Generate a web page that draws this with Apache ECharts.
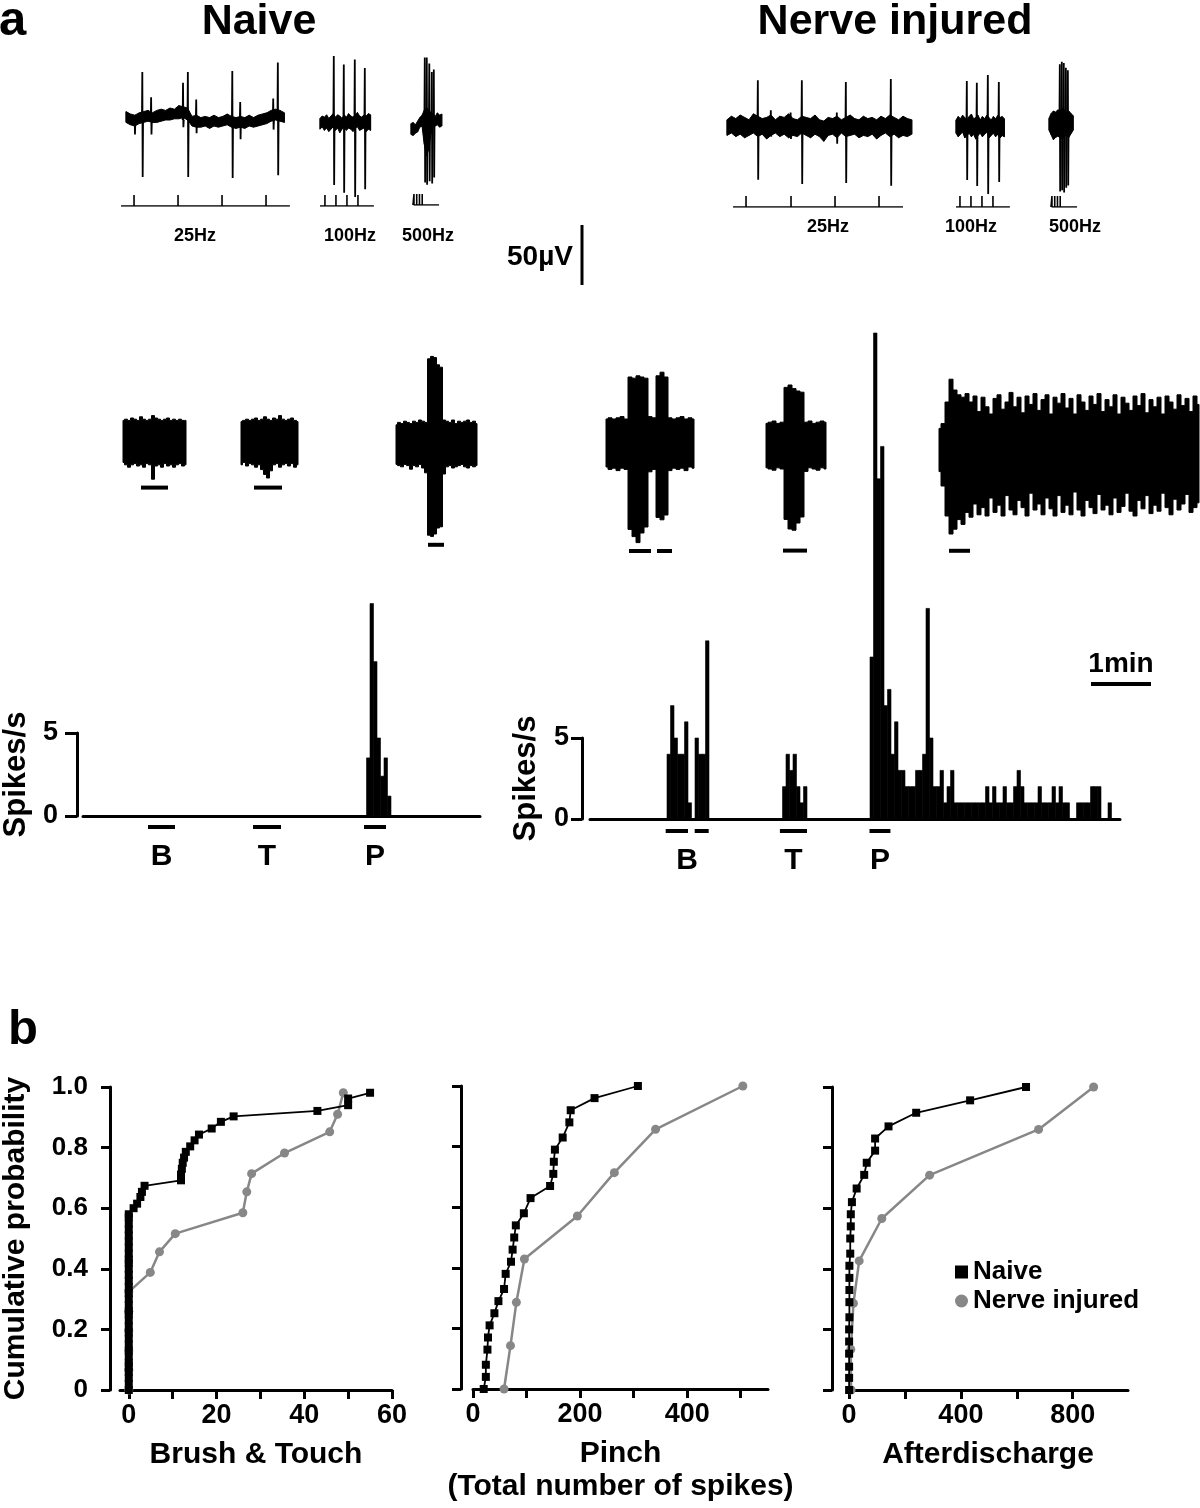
<!DOCTYPE html>
<html><head><meta charset="utf-8">
<script src="https://cdn.jsdelivr.net/npm/echarts@6/dist/echarts.min.js"></script>
<style>html,body{margin:0;padding:0;background:#fff}#c{width:1200px;height:1508px}</style>
</head><body><div id="c"></div>
<script>
// ================= DATA =================
// --- top row: single-unit responses to 25/100/500 Hz stimulation (ms, µV) ---
const nTop25 = [7,5,4,6,7,8,6,8,9,8,10,9,12,11,10,3,4,2,3,2,4,2,3,5,3,2,3,2,4,2,4,5,6,8,9,8,6];
const nBot25 = [-2,-4,-5,-3,-2,-1,-2,-2,-1,0,0,1,1,2,0,-5,-6,-6,-5,-7,-5,-6,-5,-4,-6,-7,-6,-7,-5,-6,-5,-4,-3,-1,0,-1,-2];
const nSp25 = [[8,3,-12],[15,40,-47.5],[23,19,-12],[52,31,-6],[56.4,40,-47.5],[64,17,-11],[96.8,40.8,-48.3],[104,15,-16],[134,18,-8],[138.2,48,-46]];
const nStim25 = [7.3,47.3,87.3,127.3];
const n100Top = [3,5,4,6,3,5,7,4,6,5,3,6,4,7,5,4,6,8,5,4,6,5,7,6];
const n100Bot = [-6,-4,-7,-5,-8,-6,-4,-7,-5,-9,-6,-4,-7,-5,-6,-8,-5,-4,-7,-6,-5,-8,-6,-7];
const nSp100 = [[12.7,55,-52.5],[21.8,48,-59],[31.8,52,-62.5],[40.9,45,-56]];
const nStim100 = [4.5,14.5,24.5,34.5];
const n500Top = [-3,-2,-4,-1,2,4,8,10,9,6,5,3,6,4,5];
const n500Bot = [-12,-13,-11,-10,-6,-5,-20,-30,-25,-12,-6,-5,-4,-6,-5];
const nSp500 = [[12.7,52,-52],[14.5,52,-54],[16.8,47,-51],[19.1,40,-53],[20.9,42,-48]];
const nStim500 = [2.7,5.2,7.7,10.2];

const neTop25 = [6,9,7,10,8,6,11,9,7,8,10,6,9,8,11,7,6,9,8,7,10,6,5,8,7,9,6,8,10,7,6,9,7,8,6,9,7,10,8,6,9,7,6];
const neBot25 = [-7,-5,-8,-6,-9,-7,-5,-8,-6,-10,-7,-5,-8,-6,-9,-7,-8,-5,-7,-9,-6,-8,-12,-7,-6,-9,-5,-8,-7,-6,-9,-7,-8,-6,-10,-7,-5,-8,-6,-9,-7,-8,-6];
const neSp25 = [[28.2,39,-44],[40,14,-8],[58,12,-10],[68.2,39,-47.5],[100,12,-14],[108.2,37.5,-46.7],[149.1,40,-49]];
const neStim25 = [17.3,58.2,98.2,138.2];
const ne100Top = [5,8,6,9,7,5,8,10,6,7,9,5,8,6,9,7,5,8,6,9,7,8,6];
const ne100Bot = [-6,-9,-7,-5,-10,-8,-6,-9,-7,-11,-8,-6,-9,-7,-5,-10,-8,-6,-9,-7,-10,-8,-9];
const neSp100 = [[10,37.5,-45],[19.1,36,-50],[29.1,42.5,-56.7],[39.1,36.7,-46.7]];
const neStim100 = [3.6,13.6,23.6,33.6];
const ne500Top = [4,8,10,9,11,10,12,11,9,10,8,6];
const ne500Bot = [-6,-10,-14,-12,-11,-12,-13,-11,-10,-12,-9,-6];
const neSp500 = [[10,49,-57],[11.8,51,-56],[13.6,50,-58],[15.5,46,-54],[17.3,44,-52]];
const neStim500 = [2.7,5.2,7.7,10.2];

// --- middle row: raw recordings during brush / touch / pinch (s, µV envelopes) ---
const nB_top = [18,19,18,20,19,18,21,19,18,19,22,20,19,18,19,20,18,19,18,19,18,18];
const nB_bot = [-17,-19,-21,-19,-18,-20,-19,-21,-18,-19,-31,-20,-19,-21,-18,-20,-19,-21,-19,-18,-20,-19];
const nT_top = [17,18,19,18,19,20,18,19,21,19,18,20,19,22,19,18,19,20,18,17];
const nT_bot = [-19,-17,-20,-18,-19,-21,-19,-23,-27,-30,-24,-19,-18,-21,-19,-18,-20,-18,-21,-19];
const nP_top = [16,18,17,19,18,17,19,18,20,19,18,71,73,72,66,64,20,19,18,20,17,19,18,19,20,18,19,17];
const nP_bot = [-17,-18,-19,-17,-18,-21,-18,-19,-17,-20,-24,-76,-77,-75,-70,-69,-25,-19,-18,-20,-19,-18,-17,-19,-20,-18,-19,-18];
const neB_top = [20,21,20,21,22,20,55,54,56,55,54,22,21,56,59,55,21,20,21,22,20,21,20];
const neB_bot = [-20,-22,-21,-23,-21,-22,-72,-78,-83,-75,-70,-24,-22,-62,-64,-60,-23,-21,-22,-21,-23,-20,-21];
const neT_top = [18,19,20,18,19,48,50,47,45,44,19,20,18,19,20,19];
const neT_bot = [-19,-20,-21,-19,-20,-62,-70,-71,-65,-60,-22,-19,-20,-21,-19,-20];
const ad_top = [18,22,40,59,50,46,44,47,40,45,32,44,36,30,43,46,34,40,48,36,44,31,45,38,47,33,42,46,30,44,
  39,47,35,43,30,46,40,33,45,38,47,32,42,36,46,30,44,39,33,45,37,47,31,42,36,44,30,45,40,34,46,37,43,32,45,38];
const ad_bot = [-18,-30,-55,-70,-66,-58,-62,-52,-56,-45,-54,-48,-55,-40,-52,-46,-55,-38,-50,-54,-42,-48,-55,-36,-50,-45,-54,-40,-49,-55,
  -38,-52,-46,-54,-35,-50,-55,-42,-48,-53,-37,-50,-46,-54,-40,-52,-47,-36,-51,-55,-42,-49,-38,-53,-46,-51,-36,-48,-54,-41,-50,-45,-37,-52,-48,-44];

// --- histograms (bin index, spikes/s) ---
const BIN_S = 3.5;
const naiveBins = [81,82,83,84,85,86,87];
const naiveRates = [3.5,12.8,9.3,4.7,2.4,3.5,1.2];
const nerveBins = [22,23,24,25,26,27,28,30,31,32,33,55,56,57,58,59,60,61,
  80,81,82,83,84,85,86,87,88,89,90,91,92,93,94,95,96,97,98,99,
  100,101,102,103,104,105,106,107,108,109,110,111,112,113,114,115,116,117,118,119,
  120,121,122,123,124,125,126,127,128,129,130,131,132,133,134,135,136,
  139,140,141,142,143,144,145,148];
const nerveRates = [4,7,5,4,4,6,1,5,4,4,11,2,4,3,4,2,1,2,
  10,30,21,23,7,8,4,6,3,3,2,2,2,3,3,4,13,5,2,2,
  3,1,2,3,1,1,1,1,1,1,1,1,1,2,1,2,1,1,2,1,
  1,2,3,2,1,1,1,1,2,1,1,1,2,1,2,1,1,
  1,1,1,1,2,2,2,1];
const stimLabels = ['B','T','P'];
const naiveStimSpans = [[[65,92]],[[170,198]],[[281,303]]];
const nerveStimSpans = [[[75.7,98],[104.7,118.7]],[[189.9,217]],[[279.5,300.4]]];

// --- panel b: cumulative probability ---
const btNaiveX = [0,0,0,0,0,0,0,0,0,0,0,0,0,0,0,0,0,0,0,0,0,0,0,0,0,0,0,0,0,0,0,0,
  1.1,1.9,2.65,3.0,3.6,11.9,11.9,12.1,12.3,12.6,13,14,15,16,18.9,21,23.9,43,50,50,55];
const btNaiveY = [0,0.02,0.04,0.06,0.08,0.09,0.11,0.13,0.15,0.17,0.19,0.21,0.23,0.25,0.26,0.28,0.30,0.32,0.34,0.36,0.38,0.40,0.42,0.43,0.45,0.47,0.49,0.51,0.53,0.55,0.57,0.58,
  0.60,0.615,0.637,0.654,0.674,0.692,0.711,0.73,0.75,0.767,0.786,0.804,0.824,0.843,0.863,0.885,0.903,0.921,0.94,0.962,0.981];
const btInjX = [0,0,0,0,0,0,4.9,7.0,10.6,26,26.9,28,35.5,45.8,47.6,48.9];
const btInjY = [0,0.065,0.13,0.195,0.26,0.324,0.388,0.456,0.516,0.585,0.654,0.714,0.782,0.852,0.91,0.981];
const piNaiveX = [20,24,24,27,28,31,40,47.5,58,61,71,74,77,80,95,107.5,144,150,151,153,167.5,180,182.5,227,308];
const piNaiveY = [0,0.04,0.08,0.13,0.17,0.21,0.25,0.29,0.33,0.38,0.42,0.46,0.50,0.54,0.58,0.63,0.67,0.71,0.75,0.79,0.83,0.88,0.92,0.96,1.0];
const piInjX = [58,70,81,96,195,264,341,504];
const piInjY = [0,0.143,0.286,0.429,0.571,0.714,0.857,1.0];
const adNaiveX = [0,0,0,0,0,0,1,1,1,1,1,4,4,6,6,10,27,54,63,93,93,141,240,433,633];
const adNaiveY = [0,0.04,0.077,0.12,0.16,0.2,0.24,0.29,0.33,0.37,0.41,0.45,0.5,0.54,0.58,0.62,0.665,0.71,0.75,0.79,0.83,0.87,0.915,0.956,1.0];
const adInjX = [7,6,15.5,36,117,288,678,875];
const adInjY = [0,0.134,0.286,0.426,0.566,0.709,0.86,1.0];
const btTicks = [0,10,20,30,40,50,60], btLabels = [0,20,40,60];
const piTicks = [0,100,200,300,400,500], piLabels = [0,200,400];
const adTicks = [0,200,400,600,800], adLabels = [0,400,800];
const probTicks = 0.2;

// ================= BUILD =================
const FONT = '"Liberation Sans", Arial, Helvetica, sans-serif';
const PX_PER_UV = 1.2, PX_PER_MS = 1.1, PX_PER_S = 1.0, TICK_H = 11;
const NAIVE_PX_PER_RATE = 16.6, NERVE_PX_PER_RATE = 16.2;
const GRAY = '#878787';
const grids = [], xAxes = [], yAxes = [], series = [];

function addGrid(box, xa, ya) {
  const i = grids.length;
  grids.push(Object.assign({containLabel: false}, box));
  xAxes.push(Object.assign({gridIndex: i, type: 'value', show: false, splitLine: {show: false}}, xa));
  yAxes.push(Object.assign({gridIndex: i, type: 'value', show: false, splitLine: {show: false}}, ya));
  return i;
}
// jagged (top traces) or stepped (long recordings) envelope of a noisy trace
function envelope(gi, dt, top, bot, hair, step) {
  series.push({type: 'custom', xAxisIndex: gi, yAxisIndex: gi, silent: true, data: [[0, 0]],
    renderItem(p, api) {
      const last = (top.length - 1) * dt;
      const clampT = t => Math.max(0, Math.min(last, t));
      const pts = [];
      top.forEach((v, i) => {
        if (step) { pts.push(api.coord([clampT(i * dt - dt / 2), v]), api.coord([clampT(i * dt + dt / 2), v])); }
        else pts.push(api.coord([i * dt, v]));
      });
      for (let i = bot.length - 1; i >= 0; i--) {
        if (step) { pts.push(api.coord([clampT(i * dt + dt / 2), bot[i]]), api.coord([clampT(i * dt - dt / 2), bot[i]])); }
        else pts.push(api.coord([i * dt, bot[i]]));
      }
      const ch = [{type: 'polygon', shape: {points: pts}, style: {fill: '#000', stroke: '#000', lineWidth: 1}}];
      if (hair > 0) top.forEach((v, i) => {
        const a = api.coord([i * dt, v]), b = api.coord([i * dt, bot[i]]);
        ch.push({type: 'line', shape: {x1: a[0], y1: a[1], x2: b[0], y2: b[1]}, style: {stroke: '#000', lineWidth: hair}});
      });
      return {type: 'group', children: ch};
    }});
}
function spikes(gi, list, w, lw) {
  series.push({type: 'custom', xAxisIndex: gi, yAxisIndex: gi, silent: true, data: list, encode: {x: 0, y: [1, 2]},
    renderItem(p, api) {
      const t = api.value(0), up = api.value(1), dn = api.value(2);
      const pts = [api.coord([t - w, 0]), api.coord([t - w / 3, up]), api.coord([t + w / 3, dn]), api.coord([t + w, 0])];
      return {type: 'polyline', shape: {points: pts}, style: {stroke: '#000', lineWidth: lw, fill: null}};
    }});
}
function topTrace(left, baseY, dur, dt, top, bot, sp) {
  const gi = addGrid({left: left, top: baseY - 70 * PX_PER_UV, width: dur * PX_PER_MS, height: 140 * PX_PER_UV},
    {min: 0, max: dur}, {min: -70, max: 70});
  envelope(gi, dt, top, bot, 0.8, false);
  spikes(gi, sp, 0.5, 1.8);
}
function stimRow(traceLeft, lineY, start, end, ticks) {
  const gi = addGrid({left: traceLeft + start * PX_PER_MS, top: lineY - TICK_H, width: (end - start) * PX_PER_MS, height: TICK_H},
    {min: start, max: end}, {min: 0, max: 1});
  const d = [[start, 0]];
  ticks.forEach(t => { d.push([t, 0], [t, 1], [t, 0]); });
  d.push([end, 0]);
  series.push({type: 'line', xAxisIndex: gi, yAxisIndex: gi, data: d, symbol: 'none', silent: true,
    lineStyle: {color: '#000', width: 1.6}});
}
function midTrace(left, cY, dur, dt, top, bot, stims, level) {
  const gi = addGrid({left: left, top: cY - 100 * PX_PER_UV, width: dur * PX_PER_S, height: 200 * PX_PER_UV},
    {min: 0, max: dur}, {min: -100, max: 100});
  envelope(gi, dt, top, bot, 0, true);
  series.push({type: 'custom', xAxisIndex: gi, yAxisIndex: gi, silent: true,
    data: stims.map(s => [s[0], s[1], level]), encode: {x: [0, 1], y: 2},
    renderItem(p, api) {
      const a = api.coord([api.value(0), api.value(2)]), b = api.coord([api.value(1), api.value(2)]);
      return {type: 'line', shape: {x1: a[0], y1: a[1], x2: b[0], y2: b[1]}, style: {stroke: '#000', lineWidth: 4}};
    }});
}
function histogram(cfg) {
  const hMax = cfg.yMax * cfg.pxPerRate;
  const gi = addGrid({left: cfg.left, top: cfg.baseY - hMax, width: cfg.dur * PX_PER_S, height: hMax},
    {show: true, min: 0, max: cfg.dur, axisLine: {show: true, onZero: false, lineStyle: {color: '#000', width: 3}},
     axisTick: {show: false}, axisLabel: {show: false}},
    {min: 0, max: cfg.yMax});
  series.push({type: 'custom', xAxisIndex: gi, yAxisIndex: gi, silent: true,
    data: cfg.bins.map((b, i) => [b * BIN_S, cfg.rates[i]]),
    renderItem(p, api) {
      const x = api.value(0), v = api.value(1);
      const a = api.coord([x, 0]), b = api.coord([x + BIN_S, v]);
      return {type: 'rect', shape: {x: a[0], y: b[1], width: b[0] - a[0], height: a[1] - b[1]},
        style: {fill: '#000', stroke: '#000', lineWidth: 0.6}};
    }});
  const spans = [], mids = [];
  cfg.spans.forEach((g, k) => {
    g.forEach(s => spans.push([s[0], s[1], 0]));
    mids.push([(g[0][0] + g[g.length - 1][1]) / 2, 0, k]);
  });
  series.push({type: 'custom', xAxisIndex: gi, yAxisIndex: gi, silent: true, data: spans, encode: {x: [0, 1], y: 2},
    renderItem(p, api) {
      const a = api.coord([api.value(0), 0]), b = api.coord([api.value(1), 0]);
      return {type: 'line', shape: {x1: a[0], y1: a[1] + cfg.markOff, x2: b[0], y2: b[1] + cfg.markOff},
        style: {stroke: '#000', lineWidth: 4}};
    }});
  series.push({type: 'custom', xAxisIndex: gi, yAxisIndex: gi, silent: true, data: mids, encode: {x: 0, y: 1},
    renderItem(p, api) {
      const a = api.coord([api.value(0), 0]);
      return {type: 'text', x: a[0], y: a[1] + cfg.labelOff,
        style: {text: stimLabels[api.value(2)], fill: '#000', font: 'bold 30px ' + FONT, align: 'center', verticalAlign: 'middle'}};
    }});
  // partial y axis 0..5
  addGrid({left: cfg.axisX, top: cfg.baseY - 5 * cfg.pxPerRate, width: 10, height: 5 * cfg.pxPerRate},
    {min: 0, max: 1},
    {show: true, min: 0, max: 5, interval: 5,
     axisLine: {show: true, onZero: false, lineStyle: {color: '#000', width: 3}},
     axisTick: {show: true, length: cfg.tickLen, lineStyle: {color: '#000', width: 3}},
     axisLabel: {color: '#000', fontSize: 27, fontWeight: 'bold', fontFamily: FONT, margin: cfg.labelMargin},
     name: 'Spikes/s', nameLocation: 'middle', nameGap: cfg.nameGap,
     nameTextStyle: {color: '#000', fontSize: 31, fontWeight: 'bold', fontFamily: FONT}});
}
function zip(a, b) { return a.map((v, i) => [v, b[i]]); }
function cdf(box, offset, xr, ticks, labels, xName, showY, injX, injY, naiveX, naiveY, nameGapX) {
  const gi = addGrid(box,
    {show: true, min: xr[0], max: xr[1],
     axisLine: {show: true, onZero: false, lineStyle: {color: '#000', width: 3}},
     axisTick: {show: true, length: 9, customValues: ticks, lineStyle: {color: '#000', width: 3}},
     axisLabel: {show: true, customValues: labels, color: '#000', fontSize: 27, fontWeight: 'bold', fontFamily: FONT, margin: 12},
     name: xName, nameLocation: 'middle', nameGap: nameGapX,
     nameTextStyle: {color: '#000', fontSize: 30, fontWeight: 'bold', fontFamily: FONT, lineHeight: 33}},
    {show: true, min: 0, max: 1, interval: probTicks, offset: offset,
     axisLine: {show: true, onZero: false, lineStyle: {color: '#000', width: 3}},
     axisTick: {show: true, length: 9, lineStyle: {color: '#000', width: 3}},
     axisLabel: {show: showY, color: '#000', fontSize: 26, fontWeight: 'bold', fontFamily: FONT, margin: 22,
       formatter: v => v === 0 ? '0' : v.toFixed(1)},
     name: showY ? 'Cumulative probability' : '', nameLocation: 'middle', nameGap: 79,
     nameTextStyle: {color: '#000', fontSize: 30, fontWeight: 'bold', fontFamily: FONT}});
  series.push({type: 'line', name: 'Nerve injured', xAxisIndex: gi, yAxisIndex: gi, data: zip(injX, injY),
    symbol: 'circle', symbolSize: 9, itemStyle: {color: GRAY}, lineStyle: {color: GRAY, width: 2.5}, z: 3, silent: true});
  series.push({type: 'line', name: 'Naive', xAxisIndex: gi, yAxisIndex: gi, data: zip(naiveX, naiveY),
    symbol: 'rect', symbolSize: 8, itemStyle: {color: '#000'}, lineStyle: {color: '#000', width: 1.8}, z: 4, silent: true});
}

// top row
topTrace(126, 120, 144, 4, nTop25, nBot25, nSp25);   stimRow(126, 206, -4.5, 149, nStim25);
topTrace(320, 122, 46, 2, n100Top, n100Bot, nSp100); stimRow(320, 206, 0, 49, nStim100);
topTrace(411, 120, 28, 2, n500Top, n500Bot, nSp500); stimRow(411, 205, 1.8, 25.5, nStim500);
topTrace(727, 127, 168, 4, neTop25, neBot25, neSp25); stimRow(727, 207, 5.5, 160, neStim25);
topTrace(956, 126, 44, 2, ne100Top, ne100Bot, neSp100); stimRow(956, 207, 0, 49, neStim100);
topTrace(1049, 123, 22, 2, ne500Top, ne500Bot, neSp500); stimRow(1049, 207, 1.8, 25.5, neStim500);
// middle row
midTrace(123, 442, 63, 3, nB_top, nB_bot, [[18, 45]], -38);
midTrace(241, 442, 57, 3, nT_top, nT_bot, [[13, 41]], -38);
midTrace(396, 444, 81, 3, nP_top, nP_bot, [[32, 48]], -84);
midTrace(606, 443, 88, 4, neB_top, neB_bot, [[23, 45], [51, 66]], -90);
midTrace(766, 445, 60, 4, neT_top, neT_bot, [[17, 41]], -88);
midTrace(939, 450, 260, 4, ad_top, ad_bot, [[10, 31]], -84);
// histograms
histogram({left: 83, baseY: 816, dur: 397, yMax: 13, pxPerRate: NAIVE_PX_PER_RATE, bins: naiveBins, rates: naiveRates,
  spans: naiveStimSpans, markOff: 11, labelOff: 41, axisX: 74, tickLen: 12, labelMargin: 19, nameGap: 45});
histogram({left: 590, baseY: 819, dur: 530, yMax: 31, pxPerRate: NERVE_PX_PER_RATE, bins: nerveBins, rates: nerveRates,
  spans: nerveStimSpans, markOff: 12, labelOff: 42, axisX: 582, tickLen: 11, labelMargin: 13, nameGap: 40});
// panel b
cdf({left: 120, top: 1087, width: 272, height: 303}, 10, [-2, 60], btTicks, btLabels, 'Brush & Touch', true,
  btInjX, btInjY, btNaiveX, btNaiveY, 48);
cdf({left: 473, top: 1086, width: 295, height: 303}, 12, [0, 551], piTicks, piLabels, 'Pinch\n(Total number of spikes)', false,
  piInjX, piInjY, piNaiveX, piNaiveY, 48);
cdf({left: 848, top: 1087, width: 280, height: 303}, 16, [-4, 998], adTicks, adLabels, 'Afterdischarge', false,
  adInjX, adInjY, adNaiveX, adNaiveY, 48);

function txt(text, x, y, size, align) {
  return {type: 'text', x: x, y: y, silent: true,
    style: {text: text, fill: '#000', font: 'bold ' + size + 'px ' + FONT, align: align || 'center', verticalAlign: 'middle'}};
}
const graphic = [
  txt('a', -1, 21, 49, 'left'),
  txt('Naive', 259, 22, 43), txt('Nerve injured', 895, 22, 43),
  txt('25Hz', 195, 236, 18), txt('100Hz', 350, 236, 18), txt('500Hz', 428, 236, 18),
  txt('25Hz', 828, 227, 18), txt('100Hz', 971, 227, 18), txt('500Hz', 1075, 227, 18),
  txt('50µV', 573, 257, 28, 'right'),
  {type: 'line', silent: true, shape: {x1: 582, y1: 225, x2: 582, y2: 225 + 50 * PX_PER_UV}, style: {stroke: '#000', lineWidth: 3}},
  txt('1min', 1121, 664, 28),
  {type: 'line', silent: true, shape: {x1: 1091, y1: 684, x2: 1091 + 60 * PX_PER_S, y2: 684}, style: {stroke: '#000', lineWidth: 4}},
  txt('b', 8, 1030, 49, 'left')
];

const chart = echarts.init(document.getElementById('c'), null, {renderer: 'canvas'});
chart.setOption({
  animation: false, backgroundColor: '#fff', textStyle: {fontFamily: FONT},
  grid: grids, xAxis: xAxes, yAxis: yAxes, series: series, graphic: graphic,
  legend: {orient: 'vertical', left: 950, top: 1254, itemWidth: 13, itemHeight: 13, itemGap: 3, selectedMode: false,
    textStyle: {color: '#000', fontSize: 26, fontWeight: 'bold', fontFamily: FONT},
    data: [{name: 'Naive', icon: 'rect'}, {name: 'Nerve injured', icon: 'circle'}]}
});
</script></body></html>
